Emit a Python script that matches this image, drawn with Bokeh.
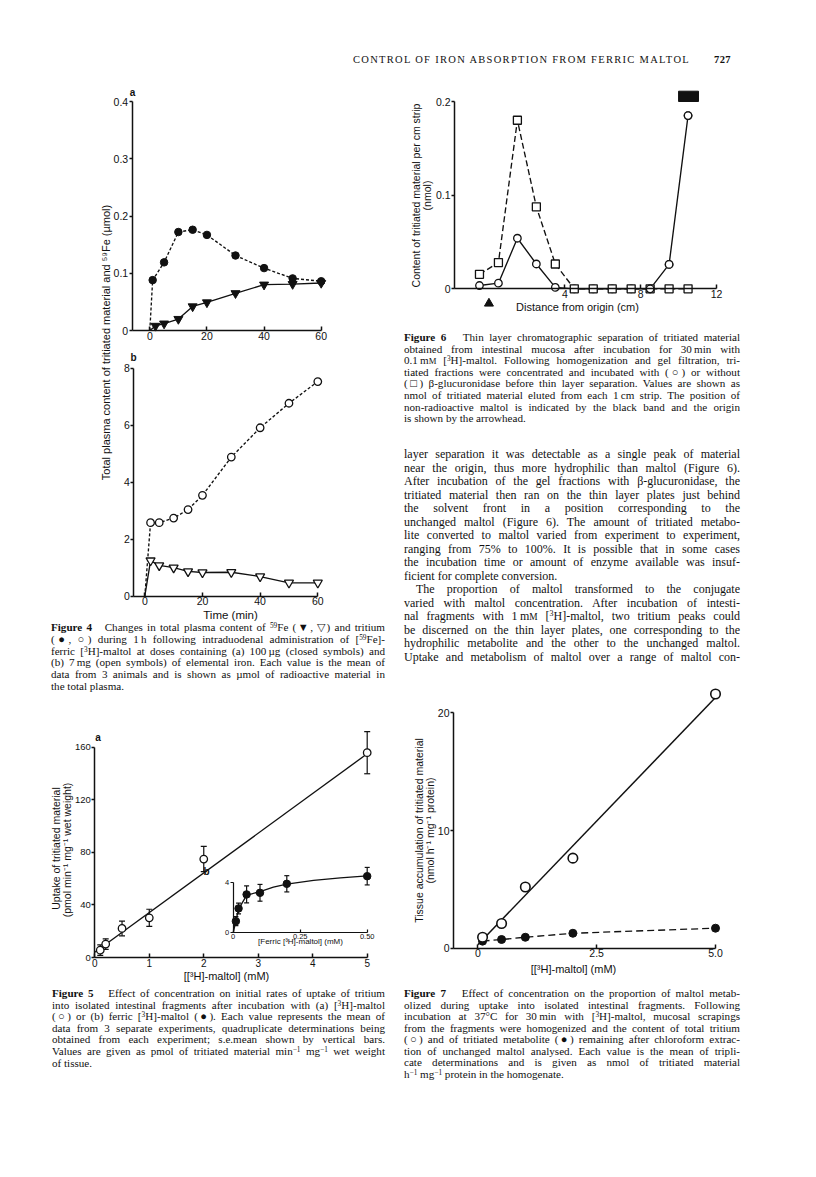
import math
from bokeh.plotting import figure
from bokeh.models import (Range1d, LinearAxis, FixedTicker, Label, ColumnDataSource,
                          Whisker, TeeHead, Div, NumeralTickFormatter, Spacer)
from bokeh.layouts import column, row
from bokeh.embed import file_html
from bokeh.resources import INLINE

SANS = "Liberation Sans"
INK = "#111111"
LW = 1.35   # data line width
AW = 1.5    # axis line width

# ---------------- data read from the page ----------------
# Figure 4a: 100 ug Fe dose (closed symbols), umol
fig4a_tritium_t = [0, 1, 5, 10, 15, 20, 30, 40, 50, 60]
fig4a_tritium = [0, 0.088, 0.119, 0.172, 0.176, 0.167, 0.131, 0.109, 0.091, 0.086]
fig4a_fe_t = [0, 2, 5, 10, 15, 20, 30, 40, 50, 60]
fig4a_fe = [0, 0.008, 0.012, 0.020, 0.042, 0.049, 0.065, 0.080, 0.081, 0.083]
# Figure 4b: 7 mg Fe dose (open symbols), umol
fig4b_tritium_t = [0, 2, 5, 10, 15, 20, 30, 40, 50, 60]
fig4b_tritium = [0, 2.58, 2.58, 2.74, 3.04, 3.54, 4.88, 5.91, 6.77, 7.53]
fig4b_fe_t = [0, 2, 5, 10, 15, 20, 30, 40, 50, 60]
fig4b_fe = [0, 1.25, 1.08, 1.00, 0.87, 0.83, 0.84, 0.69, 0.47, 0.47]

# Figure 6: thin layer chromatography, nmol per cm strip
fig6_cm = [-0.5, 0.5, 1.5, 2.5, 3.5, 4.5, 5.5, 6.5, 7.5, 8.5, 9.5, 10.5]
fig6_without = [0.0155, 0.028, 0.180, 0.0875, 0.0265, 0, 0, 0, 0, 0, 0, 0]
fig6_with = [0.0035, 0.006, 0.054, 0.0265, 0.0015, 0, 0, 0, 0, 0, 0.026, 0.185]
fig6_band_cm = [10.0, 11.05]
fig6_band_level = [0.200, 0.211]
fig6_origin_cm = [0.0]

# Figure 5a: [3H]-maltol uptake
fig5_mM = [0.1, 0.2, 0.5, 1.0, 2.0, 5.0]
fig5_uptake = [5.6, 10.2, 22.1, 30.2, 74.9, 155.8]
fig5_sem = [4.0, 4.0, 5.6, 6.5, 9.6, 16.0]
fig5_fit_mM = [0.0, 5.0]
fig5_fit_uptake = [4.0, 155.0]
# Figure 5b: ferric [3H]-maltol uptake (inset)
fig5b_mM = [0.01, 0.02, 0.05, 0.1, 0.2, 0.5]
fig5b_uptake = [0.93, 1.95, 3.07, 3.20, 3.92, 4.53]
fig5b_sem = [0.36, 0.43, 0.68, 0.67, 0.65, 0.70]
fig5b_curve_mM = [0, 0.01, 0.02, 0.05, 0.1, 0.15, 0.2, 0.3, 0.4, 0.5]
fig5b_curve_uptake = [0, 0.95, 1.9, 3.0, 3.3, 3.65, 3.9, 4.2, 4.4, 4.55]

# Figure 7: tissue accumulation, nmol h-1 mg-1 protein
fig7_mM = [0.1, 0.5, 1.0, 2.0, 5.0]
fig7_total = [0.93, 2.1, 5.2, 7.65, 21.6]
fig7_metabolite = [0.6, 0.74, 0.93, 1.27, 1.7]
fig7_fit_mM = [0.0, 5.0]
fig7_fit_total = [0.3, 21.3]


# ---------------- helpers ----------------
class Map:
    """linear page-pixel <-> data mapping, from two reference ticks"""
    def __init__(s, pa, va, pb, vb):
        s.pa, s.va = pa, va
        s.k = (vb - va) / (pb - pa)

    def v(s, p):
        return s.va + (p - s.pa) * s.k

    def xr(s, lo, hi):
        return Range1d(s.v(lo), s.v(hi))

    def yr(s, top, bot):
        return Range1d(s.v(bot), s.v(top))


def mkfig(w, h, xr, yr):
    p = figure(width=w, height=h, x_range=xr, y_range=yr, x_axis_type=None, y_axis_type=None,
               toolbar_location=None, output_backend="svg", min_border=0, title=None)
    p.outline_line_color = None
    p.background_fill_color = "white"
    p.border_fill_color = "white"
    return p


def add_axis(p, side, ticks, bounds, loc, xr="default", yr="default", fmt=None, over=None,
             tin=0, tout=3, fs="10.5px", lw=AW, standoff=1):
    ax = LinearAxis(x_range_name=xr, y_range_name=yr, fixed_location=loc, bounds=bounds,
                    ticker=FixedTicker(ticks=ticks, minor_ticks=[]))
    if fmt:
        ax.formatter = NumeralTickFormatter(format=fmt)
    if over:
        ax.major_label_overrides = over
    ax.major_tick_in = tin
    ax.major_tick_out = tout
    ax.minor_tick_in = 0
    ax.minor_tick_out = 0
    ax.axis_line_width = lw
    ax.axis_line_color = INK
    ax.major_tick_line_width = lw
    ax.major_tick_line_color = INK
    ax.major_label_text_font = SANS
    ax.major_label_text_font_size = fs
    ax.major_label_text_color = INK
    ax.major_label_standoff = standoff
    p.add_layout(ax, side)
    return ax


def lab(p, x, y, text, fs="10.5px", angle=0.0, bold=False, xr="default", yr="default"):
    p.add_layout(Label(x=x, y=y, text=text, angle=angle, x_range_name=xr, y_range_name=yr,
                       text_font=SANS, text_font_size=fs,
                       text_font_style="bold" if bold else "normal",
                       text_align="center", text_baseline="middle", text_color=INK,
                       text_line_height=0.95))


def sup(t):
    return f'<sup style="font-size:0.66em;vertical-align:0.45em;line-height:0">{t}</sup>'


MM = 'm<span style="font-size:0.78em">M</span>'


def block(lines, fs, lh, pad_left, pad_top, width, ends=(), indents=()):
    out = [f'<div style="padding:{pad_top}px 0 0 {pad_left}px;font-family:\'Liberation Serif\',serif;'
           f'font-size:{fs}px;color:{INK};">']
    for i, ln in enumerate(lines):
        last = "left" if i in ends else "justify"
        ind = "text-indent:12px;" if i in indents else ""
        out.append(f'<div style="width:{width}px;height:{lh}px;line-height:{lh}px;text-align:justify;'
                   f'text-align-last:{last};{ind}">{ln}</div>')
    out.append("</div>")
    return "".join(out)


# ---------------- texts ----------------
header_title = "CONTROL OF IRON ABSORPTION FROM FERRIC MALTOL"
header_page = "727"

cap4_lines = [
    f"<b>Figure 4</b>&nbsp;&nbsp; Changes in total plasma content of {sup('59')}Fe (&#9660;, &#9661;) and tritium",
    f"(&#9679;, &#9675;) during 1&#8201;h following intraduodenal administration of [{sup('59')}Fe]-",
    f"ferric [{sup('3')}H]-maltol at doses containing (a) 100&#8201;&micro;g (closed symbols) and",
    "(b) 7&#8201;mg (open symbols) of elemental iron. Each value is the mean of",
    "data from 3 animals and is shown as &micro;mol of radioactive material in",
    "the total plasma.",
]
cap6_lines = [
    "<b>Figure 6</b>&nbsp;&nbsp; Thin layer chromatographic separation of tritiated material",
    "obtained from intestinal mucosa after incubation for 30&#8201;min with",
    f"0.1&#8201;{MM} [{sup('3')}H]-maltol. Following homogenization and gel filtration, tri-",
    "tiated fractions were concentrated and incubated with (&#9675;) or without",
    "(&#9633;) &beta;-glucuronidase before thin layer separation. Values are shown as",
    "nmol of tritiated material eluted from each 1&#8201;cm strip. The position of",
    "non-radioactive maltol is indicated by the black band and the origin",
    "is shown by the arrowhead.",
]
body_lines = [
    "layer separation it was detectable as a single peak of material",
    "near the origin, thus more hydrophilic than maltol (Figure 6).",
    "After incubation of the gel fractions with &beta;-glucuronidase, the",
    "tritiated material then ran on the thin layer plates just behind",
    "the solvent front in a position corresponding to the",
    "unchanged maltol (Figure 6). The amount of tritiated metabo-",
    "lite converted to maltol varied from experiment to experiment,",
    "ranging from 75% to 100%. It is possible that in some cases",
    "the incubation time or amount of enzyme available was insuf-",
    "ficient for complete conversion.",
    "The proportion of maltol transformed to the conjugate",
    "varied with maltol concentration. After incubation of intesti-",
    f"nal fragments with 1&#8201;{MM} [{sup('3')}H]-maltol, two tritium peaks could",
    "be discerned on the thin layer plates, one corresponding to the",
    "hydrophilic metabolite and the other to the unchanged maltol.",
    "Uptake and metabolism of maltol over a range of maltol con-",
]
cap5_lines = [
    "<b>Figure 5</b>&nbsp;&nbsp; Effect of concentration on initial rates of uptake of tritium",
    f"into isolated intestinal fragments after incubation with (a) [{sup('3')}H]-maltol",
    f"(&#9675;) or (b) ferric [{sup('3')}H]-maltol (&#9679;). Each value represents the mean of",
    "data from 3 separate experiments, quadruplicate determinations being",
    "obtained from each experiment; s.e.mean shown by vertical bars.",
    f"Values are given as pmol of tritiated material min{sup('&minus;1')} mg{sup('&minus;1')} wet weight",
    "of tissue.",
]
cap7_lines = [
    "<b>Figure 7</b>&nbsp;&nbsp; Effect of concentration on the proportion of maltol metab-",
    "olized during uptake into isolated intestinal fragments. Following",
    f"incubation at 37&deg;C for 30&#8201;min with [{sup('3')}H]-maltol, mucosal scrapings",
    "from the fragments were homogenized and the content of total tritium",
    "(&#9675;) and of tritiated metabolite (&#9679;) remaining after chloroform extrac-",
    "tion of unchanged maltol analysed. Each value is the mean of tripli-",
    "cate determinations and is given as nmol of tritiated material",
    f"h{sup('&minus;1')} mg{sup('&minus;1')} protein in the homogenate.",
]

CAP_FS = 11.1

# ---------------- Figure 4 (page box x 8..395, y 70..622) ----------------
xa = Map(149.3, 0, 320.7, 60)
xb = Map(144.3, 0, 317.3, 60)
ya = Map(330, 0, 101, 0.4)
yb = Map(595.7, 0, 367.7, 8)
f4 = mkfig(387, 552, xa.xr(8, 395), ya.yr(70, 622))
f4.extra_x_ranges = {"xb": xb.xr(8, 395)}
f4.extra_y_ranges = {"yb": yb.yr(70, 622)}

add_axis(f4, "left", [0, 0.1, 0.2, 0.3, 0.4], (0, 0.4), xa.v(131.7), fmt="0.[0]")
add_axis(f4, "below", [0, 20, 40, 60], (xa.v(131.7), 60), 0, tin=4, tout=0)
add_axis(f4, "left", [0, 2, 4, 6, 8], (0, 8), xb.v(133.3), xr="xb", yr="yb")
add_axis(f4, "below", [0, 20, 40, 60], (xb.v(133.3), 60), 0, xr="xb", yr="yb", tin=4, tout=0)

f4.line(fig4a_tritium_t, fig4a_tritium, line_dash="3 2", line_width=LW, color=INK)
f4.scatter(fig4a_tritium_t[1:], fig4a_tritium[1:], marker="circle", size=7.5, color=INK)
f4.line(fig4a_fe_t, fig4a_fe, line_width=LW, color=INK)
f4.scatter(fig4a_fe_t[1:], fig4a_fe[1:], marker="inverted_triangle", size=9, color=INK)

f4.line(fig4b_tritium_t, fig4b_tritium, line_dash="3 2", line_width=LW, color=INK,
        x_range_name="xb", y_range_name="yb")
f4.scatter(fig4b_tritium_t[1:], fig4b_tritium[1:], marker="circle", size=7.5, fill_color="white",
           line_color=INK, line_width=1.3, x_range_name="xb", y_range_name="yb")
f4.line(fig4b_fe_t, fig4b_fe, line_width=LW, color=INK, x_range_name="xb", y_range_name="yb")
f4.scatter(fig4b_fe_t[1:], fig4b_fe[1:], marker="inverted_triangle", size=9, fill_color="white",
           line_color=INK, line_width=1.3, x_range_name="xb", y_range_name="yb")

lab(f4, xa.v(132), ya.v(92), "a", fs="10px", bold=True)
lab(f4, xa.v(133), ya.v(357), "b", fs="10px", bold=True)
lab(f4, xa.v(105), ya.v(342), "Total plasma content of tritiated material and \u2075\u2079Fe (\u00b5mol)",
    fs="11px", angle=math.pi / 2)
lab(f4, xa.v(230), ya.v(614), "Time (min)", fs="11.5px")

cap4 = Div(text=block(cap4_lines, CAP_FS, 11.8, 43, 0, 334, ends=(5,)), width=387, height=98, margin=0)

# ---------------- Figure 6 (page box x 395..808, y 70..328) ----------------
x6 = Map(564.3, 4, 716, 12)
y6 = Map(288.3, 0, 101, 0.2)
f6 = mkfig(413, 258, x6.xr(395, 808), y6.yr(70, 328))
add_axis(f6, "left", [0, 0.1, 0.2], (0, 0.2), x6.v(454), fmt="0.[0]")
add_axis(f6, "below", [4, 8, 12], (x6.v(454), 12), 0, tin=4, tout=0)

f6.line(fig6_cm, fig6_without, line_dash="6 3", line_width=LW, color=INK)
f6.line(fig6_cm, fig6_with, line_width=LW, color=INK)
f6.scatter(fig6_cm, fig6_with, marker="circle", size=7.5, fill_color="white", line_color=INK, line_width=1.3)
f6.scatter(fig6_cm, fig6_without, marker="square", size=8, fill_color="white", line_color=INK, line_width=1.3)
f6.scatter(fig6_cm[9:], fig6_with[9:], marker="circle", size=7.5, fill_color="white", line_color=INK,
           line_width=1.3)
f6.quad(left=[fig6_band_cm[0]], right=[fig6_band_cm[1]], bottom=[fig6_band_level[0]],
        top=[fig6_band_level[1]], color=INK)
f6.scatter(fig6_origin_cm, [y6.v(303)], marker="triangle", size=9, color=INK)
lab(f6, x6.v(421), y6.v(195), "Content of tritiated material per cm strip\n(nmol)", fs="10.5px",
    angle=math.pi / 2)
lab(f6, x6.v(577), y6.v(306), "Distance from origin (cm)", fs="11px")

cap6 = Div(text=block(cap6_lines, CAP_FS, 11.6, 9, 4, 336, ends=(7,)), width=413, height=105, margin=0)
body = Div(text=block(body_lines, 12, 13.5, 9, 15, 336, ends=(9,), indents=(10,)), width=413, height=237,
           margin=0)

# ---------------- Figure 5 (page box x 8..395, y 720..982) ----------------
x5 = Map(94.3, 0, 366.7, 5)
y5 = Map(957, 0, 746.7, 160)
ix = Map(232.7, 0, 366.7, 0.5)
iy = Map(932.3, 0, 882.3, 4)
f5 = mkfig(387, 262, x5.xr(8, 395), y5.yr(720, 982))
f5.extra_x_ranges = {"ix": ix.xr(8, 395)}
f5.extra_y_ranges = {"iy": iy.yr(720, 982)}
add_axis(f5, "left", [0, 40, 80, 120, 160], (0, 160), 0, fs="9.5px")
add_axis(f5, "below", [0, 1, 2, 3, 4, 5], (0, 5), 0, tin=4, tout=0, fs="10px")
add_axis(f5, "left", [0, 4], (0, 4), 0, xr="ix", yr="iy", fs="7.5px", tout=3, lw=1.2)
add_axis(f5, "below", [0, 0.25, 0.5], (0, 0.5), 0, xr="ix", yr="iy", fmt="0.00", over={0: "0"},
         tin=3, tout=0, fs="7.5px", lw=1.2)

src5 = ColumnDataSource(dict(x=fig5_mM,
                             upper=[m + s for m, s in zip(fig5_uptake, fig5_sem)],
                             lower=[m - s for m, s in zip(fig5_uptake, fig5_sem)]))
f5.add_layout(Whisker(source=src5, base="x", upper="upper", lower="lower", dimension="height",
                      line_width=1.2, line_color=INK,
                      upper_head=TeeHead(size=6, line_width=1.2, line_color=INK),
                      lower_head=TeeHead(size=6, line_width=1.2, line_color=INK)))
f5.line(fig5_fit_mM, fig5_fit_uptake, line_width=LW, color=INK)
f5.scatter(fig5_mM, fig5_uptake, marker="circle", size=7.5, fill_color="white", line_color=INK, line_width=1.3)

src5b = ColumnDataSource(dict(x=fig5b_mM,
                              upper=[m + s for m, s in zip(fig5b_uptake, fig5b_sem)],
                              lower=[m - s for m, s in zip(fig5b_uptake, fig5b_sem)]))
f5.add_layout(Whisker(source=src5b, base="x", upper="upper", lower="lower", dimension="height",
                      x_range_name="ix", y_range_name="iy", line_width=1.2, line_color=INK,
                      upper_head=TeeHead(size=5, line_width=1.2, line_color=INK),
                      lower_head=TeeHead(size=5, line_width=1.2, line_color=INK)))
f5.line(fig5b_curve_mM, fig5b_curve_uptake, line_width=LW, color=INK, x_range_name="ix", y_range_name="iy")
f5.scatter(fig5b_mM, fig5b_uptake, marker="circle", size=7.5, color=INK, x_range_name="ix", y_range_name="iy")

lab(f5, x5.v(97.5), y5.v(737), "a", fs="10px", bold=True)
lab(f5, x5.v(206), y5.v(871), "b", fs="10px", bold=True)
lab(f5, x5.v(61), y5.v(848), "Uptake of tritiated material\n(pmol min\u207b\u00b9 mg\u207b\u00b9 wet  weight)",
    fs="10.5px", angle=math.pi / 2)
lab(f5, x5.v(226), y5.v(975), "[[\u00b3H]-maltol] (mM)", fs="11px")
lab(f5, x5.v(300), y5.v(941), "[Ferric [\u00b3H]-maltol] (mM)", fs="8px")

cap5 = Div(text=block(cap5_lines, CAP_FS, 11.6, 44, 6, 333, ends=(6,)), width=387, height=187, margin=0)

# ---------------- Figure 7 (page box x 395..808, y 670..982) ----------------
x7 = Map(477.3, 0, 715, 5)
y7 = Map(947.7, 0, 712.3, 20)
f7 = mkfig(413, 312, x7.xr(395, 808), y7.yr(670, 982))
add_axis(f7, "left", [0, 10, 20], (0, 20), x7.v(453))
add_axis(f7, "below", [0, 2.5, 5], (x7.v(453), 5), 0, fmt="0.0", over={0: "0"}, tin=4, tout=0)
f7.line(fig7_fit_mM, fig7_fit_total, line_width=1.5, color=INK)
f7.line(fig7_mM, fig7_metabolite, line_dash="7 4", line_width=LW, color=INK)
f7.scatter(fig7_mM, fig7_metabolite, marker="circle", size=8, color=INK)
f7.scatter(fig7_mM, fig7_total, marker="circle", size=9.5, fill_color="white", line_color=INK, line_width=1.6)
lab(f7, x7.v(424), y7.v(830), "Tissue accumulation of tritiated material\n(nmol h\u207b\u00b9 mg\u207b\u00b9 protein)",
    fs="10.5px", angle=math.pi / 2)
lab(f7, x7.v(573), y7.v(968), "[[\u00b3H]-maltol] (mM)", fs="11px")

cap7 = Div(text=block(cap7_lines, CAP_FS, 11.5, 9, 6, 336, ends=(7,)), width=413, height=187, margin=0)

# ---------------- header and page layout ----------------
header = Div(text=(f'<div style="padding:44px 0 0 345px;white-space:nowrap;font-family:\'Liberation Serif\',serif;'
                   f'font-size:10.5px;letter-spacing:1.3px;color:{INK};">{header_title}'
                   f'<span style="margin-left:24px;font-weight:bold;letter-spacing:0.4px">{header_page}</span></div>'),
             width=800, height=62, margin=0)

left = column(f4, cap4, f5, cap5, spacing=0, margin=0)
right = column(f6, cap6, body, f7, cap7, spacing=0, margin=0)
content = column(header, row(left, right, spacing=0, margin=0), spacing=0, margin=0)
page = column(Spacer(width=808, height=8, margin=0),
              row(Spacer(width=8, height=10, margin=0), content, spacing=0, margin=0),
              spacing=0, margin=0)

open("out.html", "w").write(file_html(page, INLINE))
